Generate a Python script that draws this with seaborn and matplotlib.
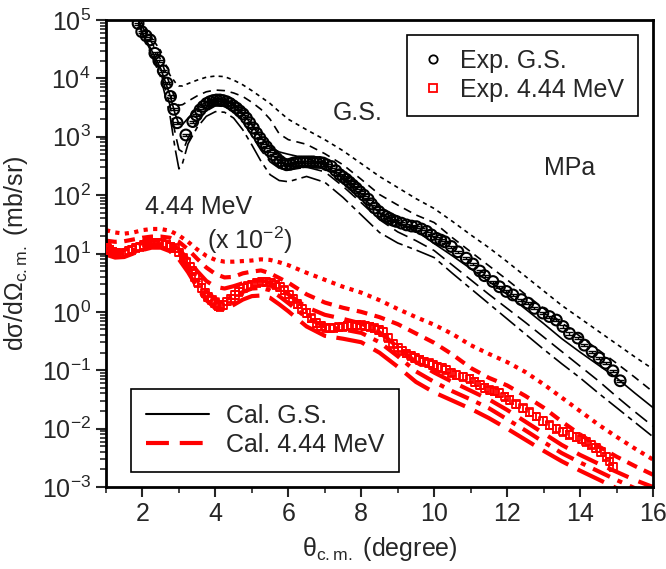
import numpy as np
import matplotlib
matplotlib.use("Agg")
import matplotlib.pyplot as plt
from matplotlib.lines import Line2D
from matplotlib.ticker import LogLocator, MultipleLocator, NullFormatter
import seaborn as sns

sns.set_theme(style="ticks")
plt.rcParams["font.family"] = ["Liberation Sans", "DejaVu Sans"]
plt.rcParams["mathtext.fontset"] = "custom"
plt.rcParams["mathtext.rm"] = "Liberation Sans"
plt.rcParams["mathtext.it"] = "Liberation Sans:italic"
plt.rcParams["mathtext.bf"] = "Liberation Sans:bold"
plt.rcParams["mathtext.sf"] = "Liberation Sans"
FS = 18

## DATA (cross sections stored as log10 of mb/sr)

# Exp. G.S.
gs_exp_theta = [1.88, 1.98, 2.10, 2.21, 2.34, 2.45, 2.57, 2.67, 2.77, 2.86, 2.95, 3.19, 3.38, 3.48,
                3.58, 3.67, 3.76, 3.85, 3.94, 4.03, 4.12, 4.21, 4.31, 4.40, 4.49, 4.58, 4.67, 4.76,
                4.85, 4.94, 5.04, 5.13, 5.22, 5.31, 5.40, 5.49, 5.58, 5.68, 5.77, 5.86, 5.95, 6.05,
                6.14, 6.23, 6.32, 6.41, 6.50, 6.59, 6.68, 6.77, 6.86, 6.95, 7.05, 7.18, 7.30, 7.41,
                7.50, 7.59, 7.68, 7.77, 7.86, 7.96, 8.07, 8.19, 8.28, 8.37, 8.48, 8.60, 8.69, 8.78,
                8.87, 8.96, 9.10, 9.24, 9.38, 9.51, 9.65, 9.79, 9.92, 10.06, 10.18, 10.29, 10.47,
                10.65, 10.88, 11.06, 11.25, 11.38, 11.61, 11.79, 11.98, 12.16, 12.39, 12.57, 12.75,
                12.98, 13.16, 13.35, 13.53, 13.71, 13.94, 14.12, 14.33, 14.52, 14.70, 14.90, 15.10]
gs_exp_log = [4.94, 4.80, 4.73, 4.66, 4.43, 4.30, 4.13, 3.92, 3.69, 3.47, 3.24, 3.03, 3.26, 3.37,
              3.46, 3.52, 3.57, 3.60, 3.62, 3.63, 3.63, 3.62, 3.60, 3.57, 3.53, 3.49, 3.44, 3.39,
              3.32, 3.24, 3.15, 3.06, 2.98, 2.90, 2.83, 2.76, 2.69, 2.63, 2.58, 2.54, 2.52, 2.53,
              2.55, 2.56, 2.57, 2.57, 2.57, 2.57, 2.57, 2.56, 2.56, 2.55, 2.52, 2.49, 2.42, 2.35,
              2.31, 2.27, 2.22, 2.17, 2.12, 2.06, 2.00, 1.93, 1.85, 1.78, 1.72, 1.66, 1.63, 1.60,
              1.57, 1.55, 1.52, 1.49, 1.47, 1.46, 1.42, 1.38, 1.32, 1.26, 1.23, 1.20, 1.12,
              1.03, 0.92, 0.82, 0.70, 0.62, 0.52, 0.43, 0.35, 0.29, 0.21, 0.15, 0.06,
              -0.02, -0.08, -0.14, -0.25, -0.37, -0.45, -0.57, -0.68, -0.79, -0.88, -1.01, -1.18]

# Exp. 4.44 MeV (x 10^-2)
ex_exp_theta = [1.02, 1.10, 1.18, 1.27, 1.36, 1.62, 1.72, 1.83, 1.93, 2.03, 2.12, 2.21, 2.32, 2.43,
                2.54, 2.66, 2.77, 2.89, 3.00, 3.12, 3.21, 3.30, 3.37, 3.44, 3.53, 3.62, 3.71, 3.80,
                3.90, 3.99, 4.06, 4.12, 4.21, 4.31, 4.42, 4.53, 4.64, 4.76, 4.88, 4.99, 5.13, 5.27,
                5.40, 5.53, 5.65, 5.77, 5.89, 6.01, 6.13, 6.25, 6.38, 6.50, 6.63, 6.77, 6.90, 7.02,
                7.14, 7.26, 7.38, 7.50, 7.62, 7.75, 7.87, 8.00, 8.11, 8.23, 8.36, 8.48, 8.60, 8.73,
                8.87, 9.00, 9.12, 9.24, 9.36, 9.48, 9.60, 9.72, 9.85, 9.97, 10.09, 10.21, 10.33,
                10.47, 10.61, 10.79, 10.97, 11.11, 11.25, 11.38, 11.52, 11.65, 11.79, 11.93, 12.07,
                12.25, 12.43, 12.61, 12.80, 12.98, 13.16, 13.35, 13.53, 13.71, 13.90, 14.04, 14.17,
                14.31, 14.44, 14.58, 14.72, 14.81, 14.90]
ex_exp_log = [1.10, 1.06, 1.03, 1.01, 1.00, 1.05, 1.07, 1.10, 1.12, 1.15, 1.17, 1.18, 1.18, 1.18,
              1.17, 1.15, 1.12, 1.09, 1.02, 0.92, 0.85, 0.78, 0.70, 0.60, 0.50, 0.41, 0.33, 0.26,
              0.20, 0.15, 0.11, 0.09, 0.12, 0.18, 0.23, 0.29, 0.35, 0.41, 0.44, 0.46, 0.50, 0.52,
              0.52, 0.50, 0.47, 0.43, 0.37, 0.30, 0.23, 0.14, 0.05, -0.02, -0.11, -0.19, -0.24, -0.27,
              -0.28, -0.27, -0.26, -0.25, -0.24, -0.23, -0.22, -0.23, -0.24, -0.25, -0.28, -0.31, -0.34, -0.44,
              -0.54, -0.61, -0.66, -0.71, -0.75, -0.79, -0.82, -0.85, -0.88, -0.91, -0.94, -0.96, -0.99,
              -1.04, -1.08, -1.11, -1.14, -1.20, -1.25, -1.30, -1.34, -1.36, -1.39, -1.45, -1.51,
              -1.58, -1.65, -1.72, -1.79, -1.87, -1.94, -2.00, -2.05, -2.10, -2.14, -2.18, -2.22,
              -2.27, -2.33, -2.40, -2.48, -2.56, -2.65]
gs_err_frac = 0.04
ex_err_frac = 0.15

# Cal. G.S. (solid + four parameter variants)
gs_cal_theta = [1.86, 2.0, 2.25, 2.5, 2.75, 2.9, 3.0, 3.1, 3.25, 3.5, 3.75, 4.0, 4.25, 4.5, 4.75,
                5.0, 5.25, 5.5, 5.75, 6.0, 6.5, 7.0, 7.5, 8.0, 8.5, 9.0, 9.5, 10.0, 10.5, 11.0,
                11.5, 12.0, 12.5, 13.0, 13.5, 14.0, 14.5, 15.0, 15.5, 16.0]
gs_cal_main = [5.08, 4.78, 4.48, 4.17, 3.72, 3.38, 3.22, 3.21, 3.32, 3.49, 3.60, 3.66, 3.64, 3.56, 3.41,
               3.20, 2.98, 2.82, 2.74, 2.70, 2.63, 2.52, 2.28, 1.98, 1.70, 1.52, 1.39, 1.17, 0.96, 0.74,
               0.52, 0.30, 0.05, -0.20, -0.46, -0.69, -0.91, -1.13, -1.39, -1.64]
gs_cal_v1 = [5.10, 4.92, 4.70, 4.47, 4.06, 3.93, 3.87, 3.87, 3.91, 3.97, 4.02, 4.04, 4.03, 3.97, 3.89,
             3.79, 3.68, 3.57, 3.43, 3.30, 3.12, 2.95, 2.76, 2.54, 2.32, 2.13, 1.94, 1.77, 1.55, 1.32,
             1.10, 0.86, 0.61, 0.36, 0.11, -0.11, -0.33, -0.55, -0.77, -0.98]
gs_cal_v2 = [5.10, 4.88, 4.62, 4.32, 3.90, 3.64, 3.54, 3.55, 3.61, 3.70, 3.77, 3.80, 3.79, 3.75, 3.69,
             3.59, 3.47, 3.30, 3.05, 2.95, 2.87, 2.71, 2.52, 2.27, 2.01, 1.83, 1.66, 1.53, 1.27, 1.03,
             0.79, 0.55, 0.30, 0.06, -0.19, -0.42, -0.65, -0.88, -1.12, -1.37]
gs_cal_v3 = [5.07, 4.76, 4.44, 4.10, 3.55, 3.05, 2.78, 2.74, 2.98, 3.27, 3.44, 3.53, 3.52, 3.43, 3.26,
             3.02, 2.77, 2.57, 2.46, 2.43, 2.48, 2.40, 2.15, 1.87, 1.58, 1.37, 1.22, 1.05, 0.80, 0.55,
             0.30, 0.06, -0.18, -0.43, -0.68, -0.93, -1.18, -1.45, -1.71, -1.96]
gs_cal_v4 = [5.06, 4.74, 4.40, 4.02, 3.38, 2.78, 2.45, 2.55, 2.88, 3.16, 3.35, 3.43, 3.42, 3.32, 3.12,
             2.86, 2.58, 2.35, 2.25, 2.23, 2.32, 2.22, 1.96, 1.66, 1.36, 1.18, 1.06, 0.93, 0.66, 0.40,
             0.14, -0.12, -0.38, -0.64, -0.89, -1.13, -1.39, -1.64, -1.89, -2.14]

# Cal. 4.44 MeV (x 10^-2)
ex_cal_theta = [1.0, 1.25, 1.5, 1.75, 2.0, 2.25, 2.5, 2.75, 3.0, 3.25, 3.5, 3.75, 4.0, 4.25, 4.5,
                4.75, 5.0, 5.25, 5.5, 5.75, 6.0, 6.5, 7.0, 7.5, 8.0, 8.5, 9.0, 9.5, 10.0, 10.5,
                11.0, 11.5, 12.0, 12.5, 13.0, 13.5, 14.0, 14.5, 15.0, 15.5, 16.0]
ex_cal_v1 = [1.40, 1.36, 1.34, 1.36, 1.40, 1.42, 1.42, 1.39, 1.31, 1.20, 1.07, 0.96, 0.89, 0.86, 0.86,
             0.87, 0.88, 0.90, 0.89, 0.85, 0.80, 0.67, 0.55, 0.43, 0.33, 0.20, 0.05, -0.09, -0.22, -0.38,
             -0.57, -0.72, -0.86, -1.03, -1.24, -1.47, -1.70, -1.93, -2.14, -2.34, -2.53]
ex_cal_v2 = [1.22, 1.20, 1.21, 1.24, 1.27, 1.29, 1.29, 1.27, 1.20, 1.07, 0.91, 0.76, 0.65, 0.59, 0.60,
             0.66, 0.69, 0.71, 0.66, 0.58, 0.50, 0.30, 0.16, 0.07, 0.00, -0.09, -0.21, -0.37, -0.53, -0.73,
             -0.96, -1.13, -1.26, -1.44, -1.64, -1.88, -2.10, -2.30, -2.48, -2.64, -2.79]
ex_cal_main = [1.10, 1.05, 1.06, 1.12, 1.18, 1.22, 1.22, 1.18, 1.07, 0.90, 0.70, 0.53, 0.43, 0.40, 0.44,
               0.49, 0.53, 0.54, 0.50, 0.41, 0.30, 0.08, -0.05, -0.12, -0.20, -0.35, -0.60, -0.86, -1.04, -1.20,
               -1.35, -1.50, -1.68, -1.88, -2.08, -2.28, -2.45, -2.60, -2.74, -2.88, -3.00]
ex_cal_v3 = [1.04, 0.99, 1.00, 1.06, 1.12, 1.16, 1.16, 1.11, 0.98, 0.78, 0.55, 0.35, 0.22, 0.20, 0.27,
             0.34, 0.40, 0.41, 0.37, 0.27, 0.15, -0.10, -0.25, -0.30, -0.36, -0.52, -0.76, -1.02, -1.20, -1.36,
             -1.50, -1.65, -1.84, -2.03, -2.23, -2.42, -2.58, -2.73, -2.88, -3.02, -3.15]
ex_cal_v4 = [0.98, 0.93, 0.94, 1.00, 1.06, 1.10, 1.10, 1.04, 0.90, 0.68, 0.42, 0.20, 0.06, 0.04, 0.12,
             0.21, 0.27, 0.28, 0.24, 0.13, 0.01, -0.25, -0.41, -0.46, -0.52, -0.70, -0.94, -1.20, -1.38, -1.52,
             -1.66, -1.82, -2.00, -2.19, -2.38, -2.56, -2.72, -2.87, -3.02, -3.16, -3.30]


## PLOT
fig = plt.figure(figsize=(6.66, 5.69), dpi=100)
ax = fig.add_axes([106 / 666, 82 / 569, 547 / 666, 467 / 569])
ax.set_yscale("log")

black_lines = [
    (gs_cal_v1, (0, (2.5, 2.5))),
    (gs_cal_v2, (0, (5, 3.5))),
    (gs_cal_main, "-"),
    (gs_cal_v3, (0, (9, 4))),
    (gs_cal_v4, (0, (12, 3, 3, 3))),
]
for vals, ls in black_lines:
    sns.lineplot(x=gs_cal_theta, y=10 ** np.array(vals), ax=ax, color="black", lw=1.2,
                 linestyle=ls, sort=False, legend=False, zorder=2)

red_lines = [
    (ex_cal_v1, (0, (1, 1.3))),
    (ex_cal_v2, (0, (2.6, 1.8))),
    (ex_cal_main, (0, (5.5, 2.6))),
    (ex_cal_v3, (0, (4.5, 2, 1.2, 2))),
    (ex_cal_v4, (0, (7, 2.5))),
]
for vals, ls in red_lines:
    sns.lineplot(x=ex_cal_theta, y=10 ** np.array(vals), ax=ax, color="red", lw=3,
                 linestyle=ls, sort=False, legend=False, zorder=2)

# experimental points
gs_y = 10 ** np.array(gs_exp_log)
ax.errorbar(gs_exp_theta, gs_y, yerr=gs_err_frac * gs_y, fmt="none", ecolor="black",
            elinewidth=1, capsize=3, capthick=1, zorder=3)
sns.scatterplot(x=gs_exp_theta, y=gs_y, ax=ax, marker="o", s=60, facecolor="none",
                edgecolor="black", linewidth=1.5, zorder=4, legend=False)

ex_y = 10 ** np.array(ex_exp_log)
ax.errorbar(ex_exp_theta, ex_y, yerr=ex_err_frac * ex_y, fmt="none", ecolor="red",
            elinewidth=1.3, capsize=3, capthick=1.3, zorder=3)
sns.scatterplot(x=ex_exp_theta, y=ex_y, ax=ax, marker="s", s=30, facecolor="none",
                edgecolor="red", linewidth=1.3, zorder=4, legend=False)

## AXES
ax.set_xlim(1, 16)
ax.set_ylim(1e-3, 1e5)
ax.xaxis.set_major_locator(MultipleLocator(2))
ax.xaxis.set_minor_locator(MultipleLocator(1))
ax.yaxis.set_major_locator(LogLocator(base=10, numticks=20))
ax.yaxis.set_minor_locator(LogLocator(base=10, subs=np.arange(2, 10), numticks=20))
ax.yaxis.set_minor_formatter(NullFormatter())
ax.tick_params(which="major", direction="out", length=7, width=1.5, labelsize=FS,
               top=False, right=False, pad=4)
ax.tick_params(which="minor", direction="out", length=4, width=1.2, top=False, right=False)
for sp in ax.spines.values():
    sp.set_linewidth(2)
    sp.set_color("black")

ax.set_xlabel("θ$_{\\rm c.m.}$ (degree)", fontsize=FS, labelpad=6)
ax.set_ylabel("dσ/dΩ$_{\\rm c.m.}$ (mb/sr)", fontsize=FS, labelpad=8)

## TEXT
ax.text(0.46, 0.80, "G.S.", transform=ax.transAxes, fontsize=FS, ha="center", va="center")
ax.text(0.848, 0.683, "MPa", transform=ax.transAxes, fontsize=FS, ha="center", va="center")
ax.text(0.170, 0.600, "4.44 MeV", transform=ax.transAxes, fontsize=FS, ha="center", va="center")
ax.text(0.263, 0.529, "(x 10$^{-2}$)", transform=ax.transAxes, fontsize=FS, ha="center", va="center")

## LEGENDS
exp_handles = [
    Line2D([], [], ls="none", marker="o", mfc="none", mec="black", ms=6, mew=1.3),
    Line2D([], [], ls="none", marker="s", mfc="none", mec="red", ms=5.5, mew=1.3),
]
leg1 = ax.legend(exp_handles, ["Exp. G.S.", "Exp. 4.44 MeV"], loc="upper right",
                 bbox_to_anchor=(532 / 547, 452 / 467), fontsize=FS, frameon=True,
                 fancybox=False, edgecolor="black", framealpha=1, handlelength=1.0,
                 handletextpad=0.6, labelspacing=0.2, borderpad=0.55, borderaxespad=0)
leg1.get_frame().set_linewidth(1.2)
ax.add_artist(leg1)

cal_handles = [
    Line2D([], [], color="black", lw=1.5, ls="-"),
    Line2D([], [], color="red", lw=3, ls=(0, (5.5, 2.6))),
]
leg2 = ax.legend(cal_handles, ["Cal. G.S.", "Cal. 4.44 MeV"], loc="lower left",
                 bbox_to_anchor=(25 / 547, 15 / 467), fontsize=FS, frameon=True,
                 fancybox=False, edgecolor="black", framealpha=1, handlelength=2.5,
                 handletextpad=0.7, labelspacing=0.2, borderpad=0.6, borderaxespad=0)
leg2.get_frame().set_linewidth(1.2)

fig.savefig("out.png", dpi=100)
